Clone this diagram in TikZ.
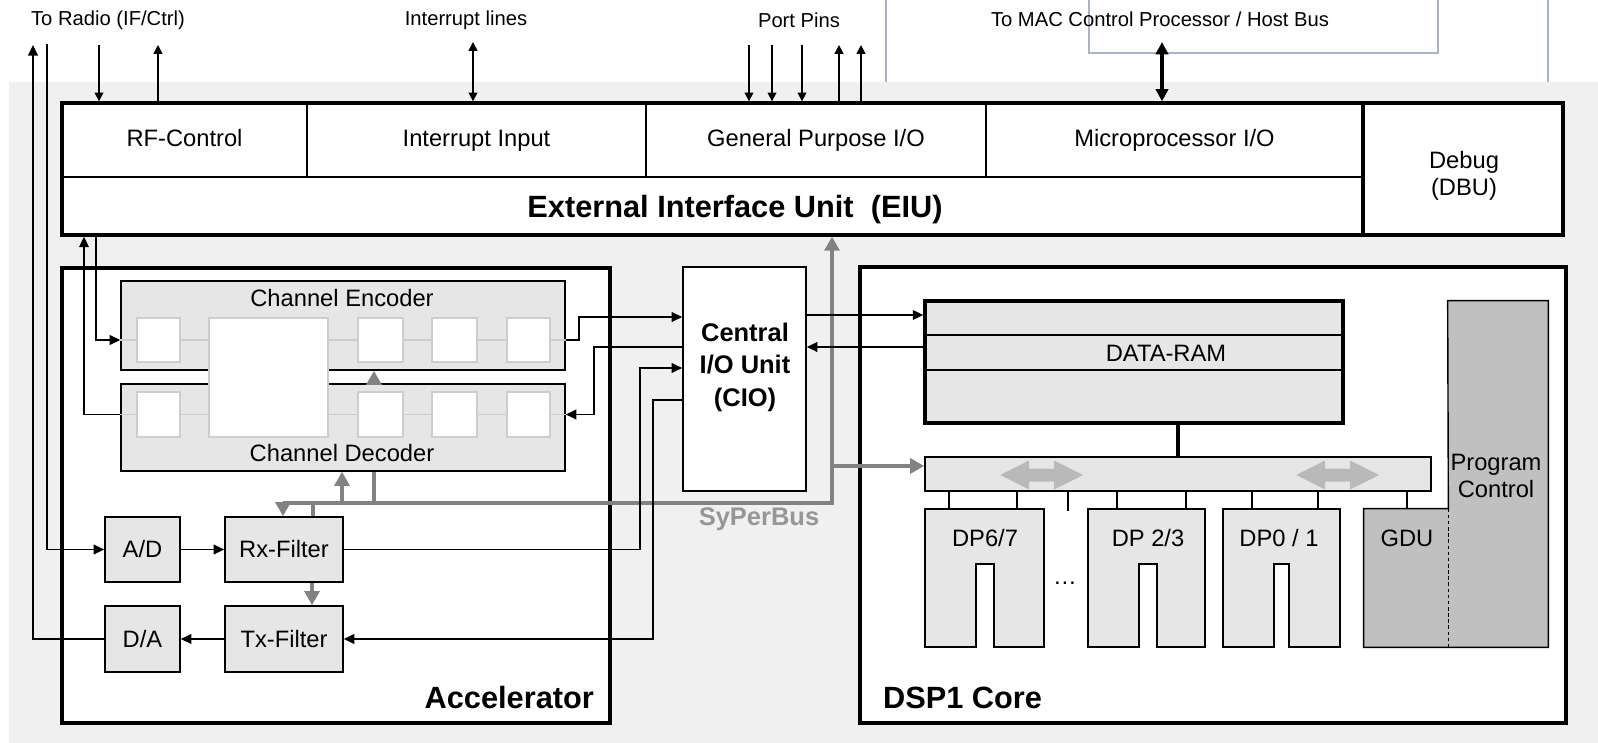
\documentclass[tikz,border=0pt]{standalone}
\usepackage{fontspec}
\setmainfont{Liberation Sans}
\usetikzlibrary{arrows.meta, positioning, fit}

\definecolor{bgfill}{RGB}{240,240,240}
\definecolor{unitfill}{RGB}{230,230,230}
\definecolor{ctrlfill}{RGB}{192,192,192}
\definecolor{busgray}{RGB}{130,130,130}
\definecolor{buslabel}{RGB}{150,150,150}
\definecolor{slotgray}{RGB}{205,205,205}
\definecolor{flowgray}{RGB}{185,185,185}
\definecolor{framegray}{RGB}{170,180,195}

\begin{document}
\begin{tikzpicture}[
    x=0.02cm, y=-0.02cm,
    % Styles
    eiucell/.style={draw, line width=0.7pt, inner sep=0pt},
    heavyframe/.style={draw, line width=1.9pt, inner sep=0pt},
    coreframe/.style={draw, fill=white, line width=2pt, inner sep=0pt},
    unitbox/.style={draw, fill=unitfill, line width=0.9pt, inner sep=0pt},
    slot/.style={draw=slotgray, fill=white, line width=1pt, inner sep=0pt},
    chain/.style={draw=slotgray, line width=1pt},
    toplabel/.style={font=\fontsize{11.5}{14}\selectfont, inner sep=1pt},
    boxlabel/.style={font=\fontsize{13.5}{15}\selectfont, inner sep=1pt, align=center},
    celllabel/.style={boxlabel, text height=9.7pt, text depth=2.8pt},
    biglabel/.style={font=\fontsize{17.5}{21}\selectfont\bfseries, inner sep=1pt},
    sig/.style={line width=0.85pt, -{Triangle[length=6pt, width=5.5pt]}},
    pin/.style={line width=0.85pt, -{Triangle[length=5pt, width=5pt]}},
    bus/.style={draw=busgray, line width=1.9pt},
    busarrow/.style={bus, -{Triangle[length=8pt, width=8.5pt]}},
    dpbox/.style={draw, fill=unitfill, line width=0.8pt}
]
    \useasboundingbox (0,0) rectangle (1598,743);

    % Grey page behind the chip
    \fill[bgfill] (9,82) rectangle (1598,743);

    % Edge of the drawing above (cut off)
    \draw[framegray, line width=0.8pt] (886,0) -- (886,82);
    \draw[framegray, line width=0.8pt] (1548,0) -- (1548,82);
    \draw[framegray, line width=0.8pt] (1089,0) -- (1089,53) -- (1438,53) -- (1438,0);

    % Labels of the outside lines
    \node[toplabel] (radiolbl) at (108,20) {To Radio (IF/Ctrl)};
    \node[toplabel] (irqlbl) at (466,20) {Interrupt lines};
    \node[toplabel] (pinlbl) at (799,20) {Port Pins};
    \node[toplabel] (hostlbl) at (1160,19) {To MAC Control Processor / Host Bus};

    % External Interface Unit
    \node[heavyframe, fill=white, fit={(62,103)(1363,235)}] (eiu) {};
    \node[eiucell, fit={(62,103)(307,177)}] (rfctrl) {};
    \node[eiucell, fit={(307,103)(646,177)}] (intin) {};
    \node[eiucell, fit={(646,103)(986,177)}] (gpio) {};
    \node[eiucell, fit={(986,103)(1363,177)}] (mpio) {};
    \node[heavyframe, fit={(62,103)(1363,235)}] (eiuframe) {};
    \node[celllabel] at (rfctrl) {RF-Control};
    \node[celllabel] at (intin) {Interrupt Input};
    \node[celllabel] at (gpio) {General Purpose I/O};
    \node[celllabel] at (mpio) {Microprocessor I/O};
    \node[font=\fontsize{17.5}{21}\selectfont\bfseries] (eiulbl) at (735,210) {External Interface Unit\ \ (EIU)};
    \node[heavyframe, fill=white, fit={(1363,103)(1563,235)}] (dbu) {};
    \node[boxlabel] (dbulbl) at (1464,176) {Debug\\(DBU)};

    % Outside lines
    \coordinate (radiotx) at (33,45);
    \coordinate (radiorx) at (47,44);
    \coordinate (rfin) at (99,45);
    \coordinate (rfout) at (158,45);
    \coordinate (irq) at (473,42);
    \coordinate (host) at (1162,42);
    \draw[pin] (rfin) -- (rfin |- eiu.north);
    \draw[pin] (rfout |- eiu.north) -- (rfout);
    \draw[line width=0.85pt, {Triangle[length=5pt, width=5pt]}-{Triangle[length=5pt, width=5pt]}] (irq) -- (irq |- eiu.north);
    \foreach \x in {749,772,802}
        \draw[pin] (\x,45) -- (\x,45 |- eiu.north);
    \foreach \x in {839,861}
        \draw[pin] (\x,45 |- eiu.north) -- (\x,45);
    \draw[line width=1.8pt, {Triangle[length=7pt, width=7pt]}-{Triangle[length=7pt, width=7pt]}] (host) -- (host |- eiu.north);

    % Accelerator
    \node[coreframe, fit={(62,268)(610,723)}] (accel) {};
    \node[biglabel, anchor=east] (accellbl) at (596,698) {Accelerator};

    \node[unitbox, fit={(121,281)(565,370)}] (enc) {};
    \node[boxlabel] (enclbl) at (342,298) {Channel Encoder};
    \node[unitbox, fit={(121,384)(565,471)}] (dec) {};
    \node[boxlabel] (declbl) at (342,453) {Channel Decoder};
    \foreach \xa/\xb [count=\i] in {137/180, 358/403, 432/477, 507/550} {
        \node[slot, fit={(\xa,318)(\xb,362)}] (encslot\i) {};
        \node[slot, fit={(\xa,392)(\xb,437)}] (decslot\i) {};
    }
    \node[slot, fit={(209,318)(328,437)}] (shared) {};
    \foreach \p in {enc, dec}
        \draw[chain] (\p.west |- \p slot1) -- (\p slot1.west)
            (\p slot1.east) -- (shared.west |- \p slot1)
            (shared.east |- \p slot1) -- (\p slot2.west)
            (\p slot2.east) -- (\p slot3.west)
            (\p slot3.east) -- (\p slot4.west)
            (\p slot4.east) -- (\p.east |- \p slot4);

    \node[unitbox, fit={(105,517)(180,582)}] (ad) {};
    \node[unitbox, fit={(225,517)(343,582)}] (rx) {};
    \node[unitbox, fit={(105,606)(180,672)}] (da) {};
    \node[unitbox, fit={(225,606)(343,672)}] (tx) {};
    \node[boxlabel] at (ad) {A/D};
    \node[boxlabel] at (rx) {Rx-Filter};
    \node[boxlabel] at (da) {D/A};
    \node[boxlabel] at (tx) {Tx-Filter};

    % Central I/O Unit
    \node[draw, fill=white, line width=0.9pt, inner sep=0pt, fit={(683,267)(806,491)}] (cio) {};
    \node[font=\fontsize{14.5}{18.5}\selectfont\bfseries, align=center] (ciolbl) at (745,367) {Central\\I/O Unit\\(CIO)};

    % DSP1 core
    \node[coreframe, fit={(860,267)(1566,723)}] (dsp) {};
    \node[biglabel, anchor=west] (dsplbl) at (881,698) {DSP1 Core};
    \node[unitbox, fit={(925,301)(1343,335)}] (ramtop) {};
    \node[unitbox, fit={(925,335)(1343,370)}] (rammid) {};
    \node[unitbox, fit={(925,370)(1343,423)}] (rambot) {};
    \node[heavyframe, fit={(925,301)(1343,423)}] (dram) {};
    \node[boxlabel] (dramlbl) at (1166,353) {DATA-RAM};
    \node[unitbox, fit={(925,457)(1431,491)}] (dpbus) {};
    \draw[line width=2.4pt] (dram.south -| 1178,0) -- (dpbus.north -| 1178,0);
    \foreach \x in {1000,1296}
        \fill[flowgray] (\x,475) -- ++(29,-14.5) -- ++(0,8) -- ++(25,0) -- ++(0,-8) -- ++(29,14.5)
            -- ++(-29,14.5) -- ++(0,-8) -- ++(-25,0) -- ++(0,8) -- cycle;

    % Data paths
    \foreach \xa/\xb/\na/\nb in {925/1044/976/994, 1088/1205/1139/1157, 1223/1340/1274/1289}
        \draw[dpbox] (\xa,509) -- (\xb,509) -- (\xb,647) -- (\nb,647) -- (\nb,564) -- (\na,564) -- (\na,647) -- (\xa,647) -- cycle;
    \node[boxlabel] (dp67) at (985,538) {DP6/7};
    \node[boxlabel] (dp23) at (1148,538) {DP 2/3};
    \node[boxlabel] (dp01) at (1279,538) {DP0 / 1};
    \node[boxlabel] (dots) at (1065,583) {\dots};
    \foreach \x in {949,1017,1117,1186,1252,1318,1407}
        \draw[line width=0.8pt] (dpbus.south -| \x,0) -- (\x,509);
    \draw[line width=0.8pt] (dpbus.south -| 1068,0) -- ++(0,19);

    % GDU and program control
    \node[fill=ctrlfill, inner sep=0pt, fit={(1448,301)(1548,647)}] (pctrl) {};
    \node[fill=ctrlfill, inner sep=0pt, fit={(1364,509)(1448,647)}] (gdu) {};
    \node[boxlabel] (pctrllbl) at (1496,476) {Program\\Control};
    \node[boxlabel] (gdulbl) at (1407,538) {GDU};
    \draw[line width=0.8pt] (gdu.north east) -- (gdu.north west) -- (gdu.south west) -- (pctrl.south east)
        -- (pctrl.north east) -- (pctrl.north west) -- cycle;
    \draw[line width=0.8pt, dash pattern=on 2pt off 1.5pt] (gdu.north east) -- (gdu.south east);

    % SyPerBus
    \coordinate (busjoin) at (832,503);
    \draw[bus, {Triangle[length=8pt, width=8.5pt]}-{Triangle[length=8pt, width=8.5pt]}] (eiu.south -| busjoin) -- (busjoin) -| (rx.north -| 283,0);
    \draw[busarrow] (busjoin |- 0,466) -- (dpbus.west |- 0,466);
    \draw[bus] (rx.north -| 313,0) -- (busjoin -| 313,0);
    \draw[busarrow] (busjoin -| 342,0) -- (dec.south -| 342,0);
    \draw[bus] (dec.south -| 374,0) -- (busjoin -| 374,0);
    \draw[busarrow] (dec.north -| 374,0) -- (enc.south -| 374,0);
    \draw[busarrow] (rx.south -| 312,0) -- (tx.north -| 312,0);
    \node[font=\fontsize{14.5}{17}\selectfont\bfseries, text=buslabel] (buslbl) at (759,519) {SyPerBus};

    % Signal connections
    \draw[sig] (eiu.south -| 96,0) |- (enc.west |- encslot1);
    \draw[sig] (dec.west |- decslot1) -| (eiu.south -| 84,0);
    \draw[sig] (enc.east |- encslot4) -- ++(13,0) |- (cio.west |- 0,317);
    \draw[sig] (cio.west |- 0,347) -- (594,347) |- (dec.east |- decslot4);
    \draw[sig] (rx.east) -| (640,368) -- (cio.west |- 0,368);
    \draw[sig] (cio.west |- 0,400) -- (653,400) |- (tx.east);
    \draw[sig] (radiorx) |- (ad.west);
    \draw[sig] (ad) -- (rx);
    \draw[sig] (tx) -- (da);
    \draw[sig] (da.west) -| (radiotx);
    \draw[sig] (cio.east |- 0,315) -- (dram.west |- 0,315);
    \draw[sig] (dram.west |- 0,347) -- (cio.east |- 0,347);
\end{tikzpicture}
\end{document}
